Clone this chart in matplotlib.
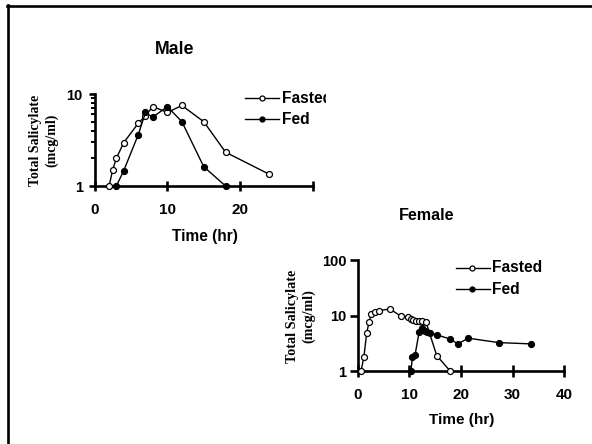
import matplotlib
matplotlib.use('Agg')
import matplotlib.pyplot as plt
from matplotlib.lines import Line2D
from matplotlib.transforms import Bbox
import matplotlib.ticker as mticker

# ---------------- data ----------------
male_fasted_t = [2, 2.5, 3, 4, 6, 7, 8, 10, 12, 15, 18, 24]
male_fasted_c = [1.0, 1.5, 2.0, 2.95, 4.8, 5.8, 7.3, 6.3, 7.5, 5.0, 2.33, 1.34]
male_fed_t = [3, 4, 6, 7, 8, 10, 12, 15, 18]
male_fed_c = [1.0, 1.46, 3.6, 6.3, 5.6, 7.3, 5.0, 1.62, 1.0]

female_fasted_t = [0.65, 1.2, 1.75, 2.2, 2.6, 3.35, 4.2, 6.25, 8.3, 9.8, 10.3,
                   10.8, 11.3, 11.9, 12.4, 13.2, 15.3, 17.9]
female_fasted_c = [1.0, 1.8, 4.9, 7.6, 10.6, 11.5, 12.3, 13.1, 9.8, 9.4, 8.8,
                   8.4, 8.1, 8.0, 8.0, 7.7, 1.9, 1.0]
female_fed_t = [10.3, 10.6, 11.1, 11.9, 12.45, 13.0, 13.5, 14.0, 15.35, 17.9,
                19.4, 21.4, 27.3, 33.5]
female_fed_c = [1.0, 1.8, 1.93, 5.1, 5.9, 5.3, 5.1, 4.9, 4.5, 3.75, 3.08, 3.9,
                3.25, 3.08]

male_xticks = [0, 10, 20, 30]
male_xlabels = ['0', '10', '20', '']
female_xticks = [0, 10, 20, 30, 40]
female_xlabels = ['0', '10', '20', '30', '40']
male_yticks = [1, 10]
female_yticks = [1, 10, 100]

series_names = ['Fasted', 'Fed']
ylabel_text = 'Total Salicylate\n(mcg/ml)'
xlabel_text = 'Time (hr)'

# ---------------- layout helpers ----------------
W, H = 592, 444
def fx(p):
    return p / W
def fy(p):
    return 1 - p / H

SANS = 'Liberation Sans'
SERIF = 'Liberation Serif'

fig = plt.figure(figsize=(W / 100, H / 100), dpi=100)
fig.patch.set_facecolor('white')

# frame lines (top and left only visible)
fig.add_artist(Line2D([fx(7), fx(592)], [fy(6), fy(6)], transform=fig.transFigure,
                      color='black', lw=1.9))
fig.add_artist(Line2D([fx(8), fx(8)], [fy(5), fy(444)], transform=fig.transFigure,
                      color='black', lw=1.9))


def style_axes(ax, xticks, xlabels, yticks, xpad, ypad, xlen, ylen, minor):
    for s in ['top', 'right']:
        ax.spines[s].set_visible(False)
    for s in ['left', 'bottom']:
        ax.spines[s].set_linewidth(1.9)
    ax.set_yscale('log')
    ax.xaxis.set_major_locator(mticker.FixedLocator(xticks))
    ax.xaxis.set_major_formatter(mticker.FixedFormatter(xlabels))
    ax.yaxis.set_major_locator(mticker.FixedLocator(yticks))
    ax.yaxis.set_major_formatter(mticker.FixedFormatter([str(v) for v in yticks]))
    if minor:
        ax.yaxis.set_minor_locator(mticker.LogLocator(base=10, subs=range(2, 10)))
    else:
        ax.yaxis.set_minor_locator(mticker.NullLocator())
    ax.yaxis.set_minor_formatter(mticker.NullFormatter())
    ax.tick_params(axis='x', direction='inout', length=xlen, width=1.9, pad=xpad)
    ax.tick_params(axis='y', which='major', direction='out', length=ylen, width=1.9,
                   pad=ypad)
    ax.tick_params(axis='y', which='minor', direction='out', length=2.8, width=1.4)
    for lab in ax.get_xticklabels():
        lab.set_fontfamily(SANS)
        lab.set_fontweight('bold')
        lab.set_fontsize(11)
    for lab in ax.get_yticklabels():
        lab.set_fontfamily(SANS)
        lab.set_fontweight('bold')
        lab.set_fontsize(10.5)


def plot_series(ax, t, c, filled):
    ax.plot(t, c, color='black', lw=1.0, marker='o', ms=4.3,
            mfc='black' if filled else 'white', mec='black', mew=0.9,
            clip_on=False, zorder=3)


def legend(x0, x1, xm, xt, rows, clip_x=None):
    for (y, filled, name) in rows:
        fig.add_artist(Line2D([fx(x0), fx(x1)], [fy(y), fy(y)], transform=fig.transFigure,
                              color='black', lw=1.0))
        fig.add_artist(Line2D([fx(xm)], [fy(y)], transform=fig.transFigure,
                              marker='o', ms=3.6, mfc='black' if filled else 'white',
                              mec='black', mew=0.9, lw=0))
        t = fig.text(fx(xt), fy(y), name, fontfamily=SANS, fontweight='bold',
                     fontsize=11.2, ha='left', va='center')
        if clip_x is not None:
            t.set_clip_box(Bbox.from_extents(0, 0, clip_x, H))
            t.set_clip_on(True)


# ---------------- Male ----------------
axm = fig.add_axes([fx(94.5), fy(186), fx(313) - fx(94.5), fy(94) - fy(186)])
axm.set_xlim(0, 30)
axm.set_ylim(1, 10)
plot_series(axm, male_fasted_t, male_fasted_c, False)
plot_series(axm, male_fed_t, male_fed_c, True)
style_axes(axm, male_xticks, male_xlabels, male_yticks, xpad=9.0, ypad=4.2,
           xlen=7.2, ylen=4.3, minor=True)
fig.text(fx(174.5), fy(49), 'Male', fontfamily=SANS, fontweight='bold', fontsize=12.8,
         ha='center', va='center')
fig.text(fx(204.5), fy(236.5), xlabel_text, fontfamily=SANS, fontweight='bold',
         fontsize=11.2, ha='center', va='center')
fig.text(fx(44), fy(140), ylabel_text, fontfamily=SERIF, fontweight='bold',
         fontsize=10, ha='center', va='center', rotation=90, linespacing=1.25,
         multialignment='center')
legend(245, 279, 261.7, 281.7,
       [(98.3, False, series_names[0]), (119.3, True, series_names[1])], clip_x=326)

# ---------------- Female ----------------
axf = fig.add_axes([fx(357.7), fy(371), fx(564.3) - fx(357.7), fy(260) - fy(371)])
axf.set_xlim(0, 40)
axf.set_ylim(1, 100)
plot_series(axf, female_fasted_t, female_fasted_c, False)
plot_series(axf, female_fed_t, female_fed_c, True)
style_axes(axf, female_xticks, female_xlabels, female_yticks, xpad=8.0, ypad=2.8,
           xlen=8.0, ylen=5.5, minor=False)
fig.text(fx(427), fy(215.5), 'Female', fontfamily=SANS, fontweight='bold', fontsize=11.6,
         ha='center', va='center')
fig.text(fx(461.5), fy(420), xlabel_text, fontfamily=SANS, fontweight='bold',
         fontsize=11, ha='center', va='center')
fig.text(fx(300.5), fy(316), ylabel_text, fontfamily=SERIF, fontweight='bold',
         fontsize=10.2, ha='center', va='center', rotation=90, linespacing=1.25,
         multialignment='center')
legend(456, 490, 472.3, 491.7,
       [(267.7, False, series_names[0]), (289.3, True, series_names[1])])

fig.savefig('out.png', dpi=100, facecolor='white')
